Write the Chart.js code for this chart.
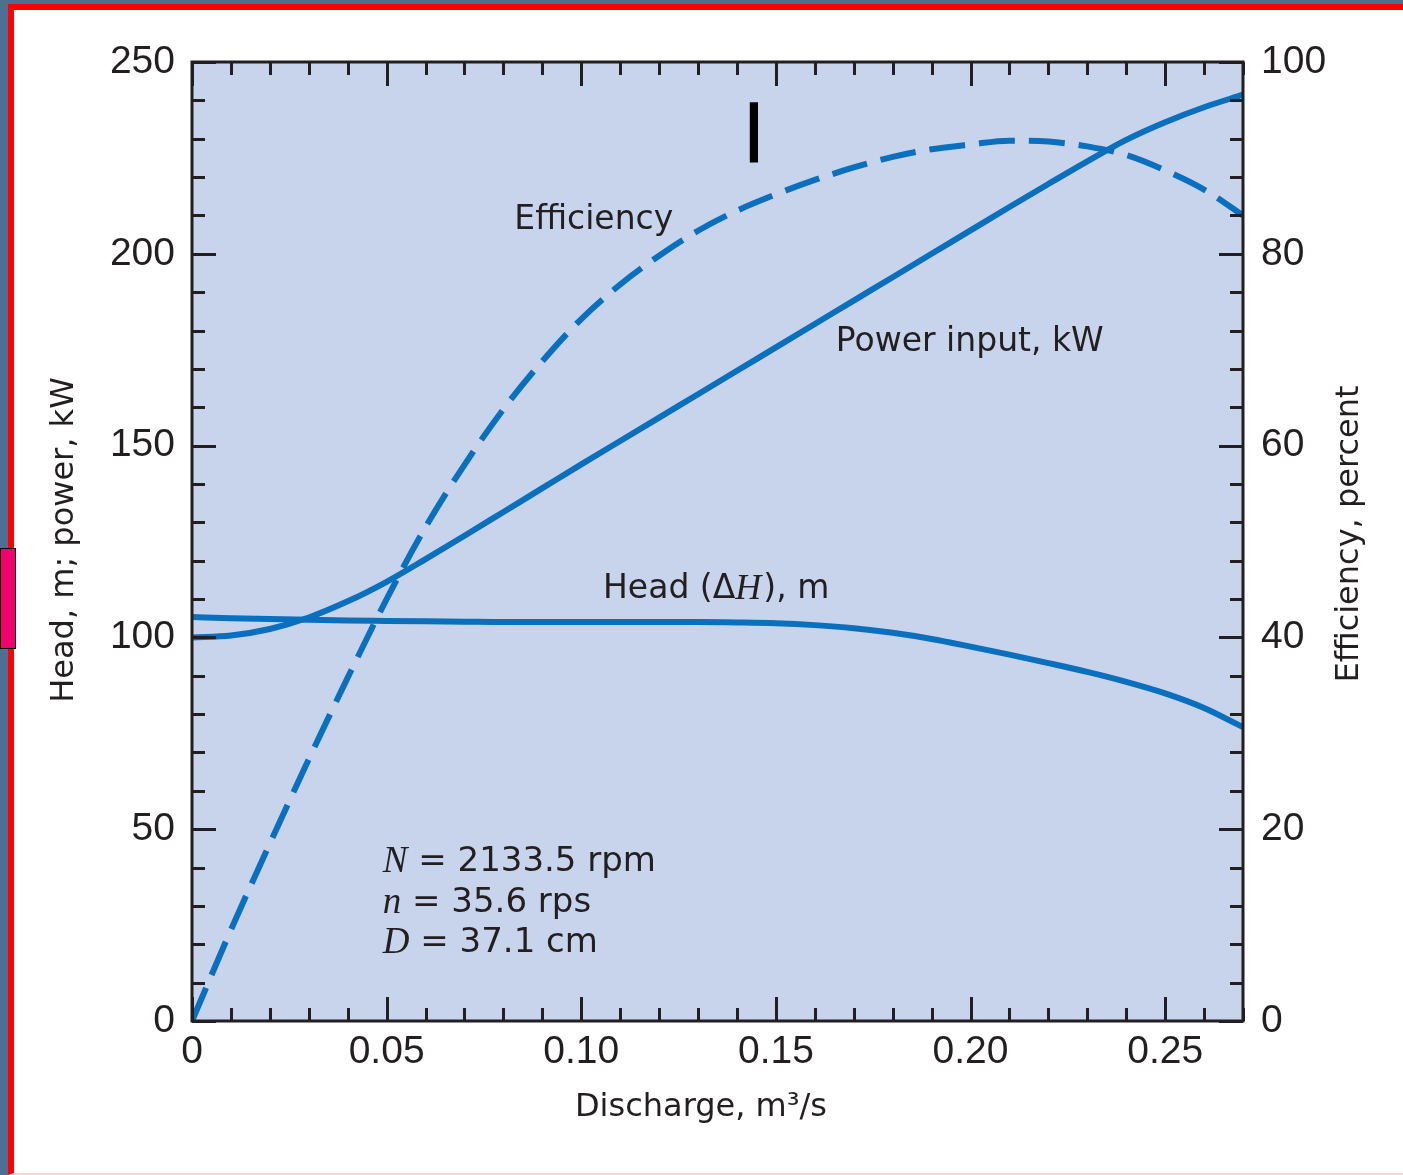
<!DOCTYPE html>
<html>
<head>
<meta charset="utf-8">
<script src="https://cdn.jsdelivr.net/npm/chart.js@4/dist/chart.umd.min.js"></script>
<style>
  html, body { margin: 0; padding: 0; width: 1403px; height: 1175px; overflow: hidden; background: #4e6e93; }
  #frame { position: absolute; left: 8px; top: 4px; width: 1395px; height: 1171px; box-sizing: border-box;
           background: #ffffff; border-left: 6px solid #ff0000; border-top: 6px solid #ff0000; border-bottom: 2px solid #ffd4d4; }
  #c { position: absolute; left: 0; top: 0; z-index: 2; }
  #marker { position: absolute; left: 0; top: 548px; width: 14px; height: 99px; background: #f2006c; border: 1px solid #000; z-index: 3; }
</style>
</head>
<body>
<div id="frame"></div>
<canvas id="c" width="1403" height="1175"></canvas>
<div id="marker"></div>
<script>
// ---- data ----
const discharge = [0, 0.01, 0.02, 0.03, 0.04, 0.05, 0.06, 0.07, 0.08, 0.09, 0.10, 0.11, 0.12, 0.13, 0.14,
                   0.15, 0.16, 0.17, 0.18, 0.19, 0.20, 0.21, 0.22, 0.23, 0.24, 0.25, 0.26, 0.27];
const headM = [105.3, 105.0, 104.8, 104.6, 104.4, 104.3, 104.2, 104.1, 104.0, 104.0, 104.0, 104.0, 104.0, 104.0, 103.9,
               103.7, 103.2, 102.4, 101.2, 99.6, 97.6, 95.5, 93.3, 91.0, 88.4, 85.4, 81.6, 76.6];
const powerKW = [100, 100.5, 102.2, 105.2, 109.4, 114.5, 120.4, 126.5, 132.7, 138.9, 145.1, 151.2, 157.3, 163.4, 169.5,
                 175.6, 181.7, 187.8, 193.9, 200.0, 206.1, 212.2, 218.2, 224.1, 229.7, 234.3, 238.2, 241.5];
const efficiencyPct = [0, 9.5, 18.5, 27.3, 35.8, 44.0, 51.5, 58.0, 63.8, 68.8, 73.2, 76.8, 79.8, 82.4, 84.5,
                       86.2, 87.7, 89.0, 90.1, 90.9, 91.4, 91.8, 91.7, 91.2, 90.3, 88.7, 86.7, 84.0];
const xTickValues = [0, 0.05, 0.10, 0.15, 0.20, 0.25];
const xTickLabels = ['0', '0.05', '0.10', '0.15', '0.20', '0.25'];
const yLeftTicks = [0, 50, 100, 150, 200, 250];
const yRightTicks = [0, 20, 40, 60, 80, 100];
const xMinorStep = 0.01;
const yLeftMinorStep = 10;

const INK = '#231f20';
const BLUE = '#0a6fbd';
const SANS = '"DejaVu Sans", sans-serif';
const NUM = '"Liberation Sans", Arial, sans-serif';
const SERIF = '"Liberation Serif", "DejaVu Serif", serif';

const pts = (ys) => discharge.map((x, i) => ({ x: x, y: ys[i] }));

const decor = {
  id: 'decor',
  beforeDraw(chart) {
    const { ctx, chartArea: a } = chart;
    ctx.save();
    ctx.fillStyle = '#c7d4ec';
    ctx.fillRect(a.left, a.top, a.right - a.left, a.bottom - a.top);
    ctx.restore();
  },
  afterDraw(chart) {
    const { ctx, chartArea: a, scales } = chart;
    const xs = scales.x, yl = scales.y;
    ctx.save();
    ctx.strokeStyle = INK;
    ctx.lineWidth = 3;
    // x ticks (top & bottom, inward)
    const nx = Math.round(0.27 / xMinorStep);
    for (let i = 0; i <= nx; i++) {
      const v = i * xMinorStep;
      const px = Math.round(xs.getPixelForValue(v)) + 0.5;
      const major = i % 5 === 0;
      const len = major ? 24 : 13;
      ctx.beginPath(); ctx.moveTo(px, a.bottom); ctx.lineTo(px, a.bottom - len); ctx.stroke();
      ctx.beginPath(); ctx.moveTo(px, a.top); ctx.lineTo(px, a.top + len); ctx.stroke();
    }
    // y ticks (left & right, inward)
    for (let v = 0; v <= 250; v += yLeftMinorStep) {
      const py = Math.round(yl.getPixelForValue(v)) + 0.5;
      const major = v % 50 === 0;
      const len = major ? 24 : 13;
      ctx.beginPath(); ctx.moveTo(a.left, py); ctx.lineTo(a.left + len, py); ctx.stroke();
      ctx.beginPath(); ctx.moveTo(a.right, py); ctx.lineTo(a.right - len, py); ctx.stroke();
    }
    // frame
    ctx.strokeRect(a.left, a.top, a.right - a.left, a.bottom - a.top);

    // annotations
    ctx.fillStyle = INK;
    ctx.textBaseline = 'middle';
    ctx.textAlign = 'left';
    ctx.font = '33px ' + SANS;
    ctx.fillText('Efficiency', xs.getPixelForValue(0.0828), yl.getPixelForValue(208.8));
    ctx.fillText('Power input, kW', xs.getPixelForValue(0.1654), yl.getPixelForValue(177));

    // Head (ΔH), m
    let hx = xs.getPixelForValue(0.1056);
    const hy = yl.getPixelForValue(112.4);
    const parts = [['Head (Δ', '33px ' + SANS], ['H', 'italic 36px ' + SERIF], ['), m', '33px ' + SANS]];
    for (const [t, f] of parts) { ctx.font = f; ctx.fillText(t, hx, hy); hx += ctx.measureText(t).width + (t === 'H' ? 2 : 0); }

    // parameter block
    const params = [['N', ' = 2133.5 rpm', 41.4], ['n', ' = 35.6 rps', 30.8], ['D', ' = 37.1 cm', 20.3]];
    for (const [sym, rest, yv] of params) {
      let px = xs.getPixelForValue(0.049);
      const py = yl.getPixelForValue(yv);
      ctx.font = 'italic 37px ' + SERIF; ctx.fillText(sym, px, py); px += ctx.measureText(sym).width;
      ctx.font = '34px ' + SANS; ctx.fillText(rest, px, py);
    }

    // black marker bar
    ctx.fillStyle = '#000';
    const bx0 = xs.getPixelForValue(0.1433), bx1 = xs.getPixelForValue(0.1454);
    const by0 = yl.getPixelForValue(239.5), by1 = yl.getPixelForValue(223.8);
    ctx.fillRect(bx0, by0, bx1 - bx0, by1 - by0);

    // axis titles
    ctx.fillStyle = INK;
    ctx.font = '32px ' + SANS;
    ctx.textAlign = 'center';
    ctx.save(); ctx.translate(65, 540); ctx.rotate(-Math.PI / 2); ctx.fillText('Head, m; power, kW', 0, 0); ctx.restore();
    ctx.save(); ctx.translate(1350, 534); ctx.rotate(-Math.PI / 2); ctx.fillText('Efficiency, percent', 0, 0); ctx.restore();
    ctx.fillText('Discharge, m³/s', 701, 1108);
    ctx.restore();
  }
};

new Chart(document.getElementById('c'), {
  type: 'line',
  data: {
    datasets: [
      { label: 'Head', data: pts(headM), yAxisID: 'y', borderColor: BLUE, borderWidth: 6, pointRadius: 0, cubicInterpolationMode: 'monotone', fill: false },
      { label: 'Power input', data: pts(powerKW), yAxisID: 'y', borderColor: BLUE, borderWidth: 6, pointRadius: 0, cubicInterpolationMode: 'monotone', fill: false },
      { label: 'Efficiency', data: pts(efficiencyPct), yAxisID: 'y2', borderColor: BLUE, borderWidth: 6, borderDash: [36, 14], pointRadius: 0, cubicInterpolationMode: 'monotone', fill: false }
    ]
  },
  options: {
    responsive: false,
    animation: false,
    devicePixelRatio: 1,
    layout: { padding: { top: 62, left: 0, right: 0, bottom: 0 } },
    plugins: { legend: { display: false }, tooltip: { enabled: false } },
    scales: {
      x: {
        type: 'linear', min: 0, max: 0.27,
        grid: { display: false, drawTicks: false }, border: { display: false },
        afterBuildTicks: (s) => { s.ticks = xTickValues.map(v => ({ value: v })); },
        afterFit: (s) => { s.height = 154; },
        ticks: { color: INK, font: { family: NUM, size: 39 }, padding: 8, maxRotation: 0,
                 callback: (v) => { const i = xTickValues.findIndex(t => Math.abs(t - v) < 1e-9); return i >= 0 ? xTickLabels[i] : ''; } }
      },
      y: {
        type: 'linear', position: 'left', min: 0, max: 250,
        grid: { display: false, drawTicks: false }, border: { display: false },
        afterBuildTicks: (s) => { s.ticks = yLeftTicks.map(v => ({ value: v })); },
        afterFit: (s) => { s.width = 192; },
        ticks: { color: INK, font: { family: NUM, size: 39 }, padding: 17 }
      },
      y2: {
        type: 'linear', position: 'right', min: 0, max: 100,
        grid: { display: false, drawTicks: false }, border: { display: false },
        afterBuildTicks: (s) => { s.ticks = yRightTicks.map(v => ({ value: v })); },
        afterFit: (s) => { s.width = 160; },
        ticks: { color: INK, font: { family: NUM, size: 39 }, padding: 18 }
      }
    }
  },
  plugins: [decor]
});
</script>
</body>
</html>
